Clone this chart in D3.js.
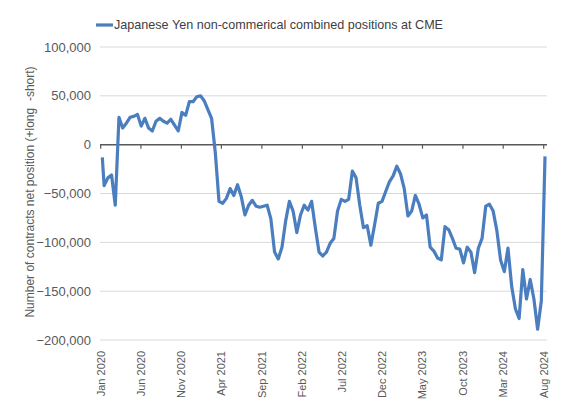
<!DOCTYPE html>
<html lang="en">

<head>
    <meta charset="UTF-8">
    <title>Japanese Yen non-commercial positions</title>
    <style>
        html,
        body {
            background-color: white;
            margin: 0;
        }

        text {
            font-family: "Liberation Sans", Arial, sans-serif;
            fill: #595959;
        }
    </style>
</head>

<body>
    <main></main>
    <script src="https://cdn.jsdelivr.net/npm/d3@7"></script>
    <script>
        // - - - - - - - - - -
        // Data
        // - - - - - - - - - -

        const seriesName = 'Japanese Yen non-commerical combined positions at CME';
        const yTitle = 'Number of contracts net position (+long  -short)';

        // first report, then a report every two weeks after 2020-01-14
        const firstReport = '2020-01-07';
        const secondReport = '2020-01-14';
        const stepDays = 14;

        const netPositions = [
            -13000, -42000, -34000, -31000, -62000, 28000, 17000, 22000, 28000, 29000,
            31000, 19000, 27000, 17000, 14000, 24000, 27000, 24000, 22000, 26000,
            20000, 14000, 33000, 30000, 44000, 44000, 49000, 50000, 45000, 36000,
            27000, -8000, -58000, -60000, -55000, -45000, -52000, -41000, -53000, -72000,
            -62000, -57000, -63000, -64000, -63000, -62000, -76000, -110000, -117000, -105000,
            -78000, -58000, -68000, -90000, -72000, -62000, -67000, -58000, -85000, -110000,
            -114000, -110000, -101000, -96000, -68000, -56000, -58000, -56000, -27000, -34000,
            -62000, -85000, -83000, -103000, -82000, -60000, -58000, -48000, -38000, -32000,
            -22000, -30000, -45000, -73000, -68000, -52000, -61000, -75000, -72000, -105000,
            -109000, -116000, -118000, -84000, -87000, -96000, -106000, -107000, -121000, -105000,
            -110000, -131000, -106000, -96000, -63000, -61000, -68000, -88000, -118000, -130000,
            -106000, -145000, -168000, -178000, -128000, -158000, -138000, -158000, -189000, -160000,
            -12000
        ];

        const yTicks = [100000, 50000, 0, -50000, -100000, -150000, -200000];
        const xTickLabels = ['Jan 2020', 'Jun 2020', 'Nov 2020', 'Apr 2021', 'Sep 2021', 'Feb 2022',
            'Jul 2022', 'Dec 2022', 'May 2023', 'Oct 2023', 'Mar 2024', 'Aug 2024'];

        !(function () {
            'use strict';

            let svg, x, y, data,
                width = 575,
                height = 416,
                plot = { left: 100, right: 547, top: 47, bottom: 340 },
                lineColor = '#4a7ebf',
                parse = d3.timeParse('%Y-%m-%d'),
                format = d3.format(',d');

            /** Build the dated series */
            function setData() {
                let start = parse(secondReport);
                data = netPositions.map(function (v, i) {
                    let date = i === 0 ? parse(firstReport) :
                        d3.timeDay.offset(start, (i - 1) * stepDays);
                    return { date: date, value: v };
                });
            }

            /** Scales */
            function setScales() {
                x = d3.scaleTime()
                    .domain([parse('2020-01-01'), parse('2024-08-01')])
                    .range([100.7, 543.7]);

                y = d3.scaleLinear()
                    .domain([-200000, 100000])
                    .range([plot.bottom, plot.top]);
            }

            /** Svg container */
            function setSvg() {
                svg = d3.select('main')
                    .append('svg')
                    .attr('width', width)
                    .attr('height', height);
            }

            /** Gridlines, y labels and title */
            function drawYAxis() {
                let g = svg.append('g');

                g.selectAll('line')
                    .data(yTicks.filter(function (d) { return d !== 0; }))
                    .enter().append('line')
                    .attr('x1', plot.left)
                    .attr('x2', plot.right)
                    .attr('y1', function (d) { return y(d); })
                    .attr('y2', function (d) { return y(d); })
                    .attr('stroke', '#d9d9d9')
                    .attr('stroke-width', 1);

                g.selectAll('text')
                    .data(yTicks)
                    .enter().append('text')
                    .attr('x', 91)
                    .attr('y', function (d) { return y(d); })
                    .attr('dy', '0.35em')
                    .attr('text-anchor', 'end')
                    .style('font-size', '13px')
                    .text(function (d) { return format(d); });

                svg.append('text')
                    .attr('transform', 'translate(30,' + 192 + ') rotate(-90)')
                    .attr('text-anchor', 'middle')
                    .attr('dy', '0.35em')
                    .style('font-size', '12px')
                    .style('white-space', 'pre')
                    .text(yTitle);
            }

            /** Zero line with date ticks and rotated labels */
            function drawXAxis() {
                let g = svg.append('g'),
                    ticks = x.ticks(d3.timeMonth.every(1)).filter(function (d, i) { return i % 5 === 0; }),
                    y0 = y(0);

                g.append('line')
                    .attr('x1', plot.left)
                    .attr('x2', plot.right)
                    .attr('y1', y0)
                    .attr('y2', y0)
                    .attr('stroke', '#595959')
                    .attr('stroke-width', 1.5);

                g.selectAll('line.tick')
                    .data(ticks)
                    .enter().append('line')
                    .attr('class', 'tick')
                    .attr('x1', function (d) { return x(d); })
                    .attr('x2', function (d) { return x(d); })
                    .attr('y1', y0)
                    .attr('y2', y0 + 4)
                    .attr('stroke', '#595959')
                    .attr('stroke-width', 1.2);

                g.selectAll('text')
                    .data(ticks)
                    .enter().append('text')
                    .attr('transform', function (d) {
                        return 'translate(' + x(d) + ',351) rotate(-90)';
                    })
                    .attr('text-anchor', 'end')
                    .attr('dy', '0.35em')
                    .style('font-size', '11px')
                    .text(function (d, i) { return xTickLabels[i]; });
            }

            /** The series line and legend */
            function drawLine() {
                let line = d3.line()
                    .x(function (d) { return x(d.date); })
                    .y(function (d) { return y(d.value); });

                svg.append('path')
                    .datum(data)
                    .attr('d', line)
                    .attr('fill', 'none')
                    .attr('stroke', lineColor)
                    .attr('stroke-width', 3.2)
                    .attr('stroke-linejoin', 'round');

                svg.append('line')
                    .attr('x1', 96)
                    .attr('x2', 113)
                    .attr('y1', 25)
                    .attr('y2', 25)
                    .attr('stroke', lineColor)
                    .attr('stroke-width', 3.2);

                svg.append('text')
                    .attr('x', 114)
                    .attr('y', 25)
                    .attr('dy', '0.35em')
                    .style('font-size', '12.6px')
                    .style('fill', '#404040')
                    .text(seriesName);
            }

            function main() {
                setData();
                setScales();
                setSvg();
                drawYAxis();
                drawXAxis();
                drawLine();
            }

            window.addEventListener('load', main);
        }());
    </script>
</body>

</html>
